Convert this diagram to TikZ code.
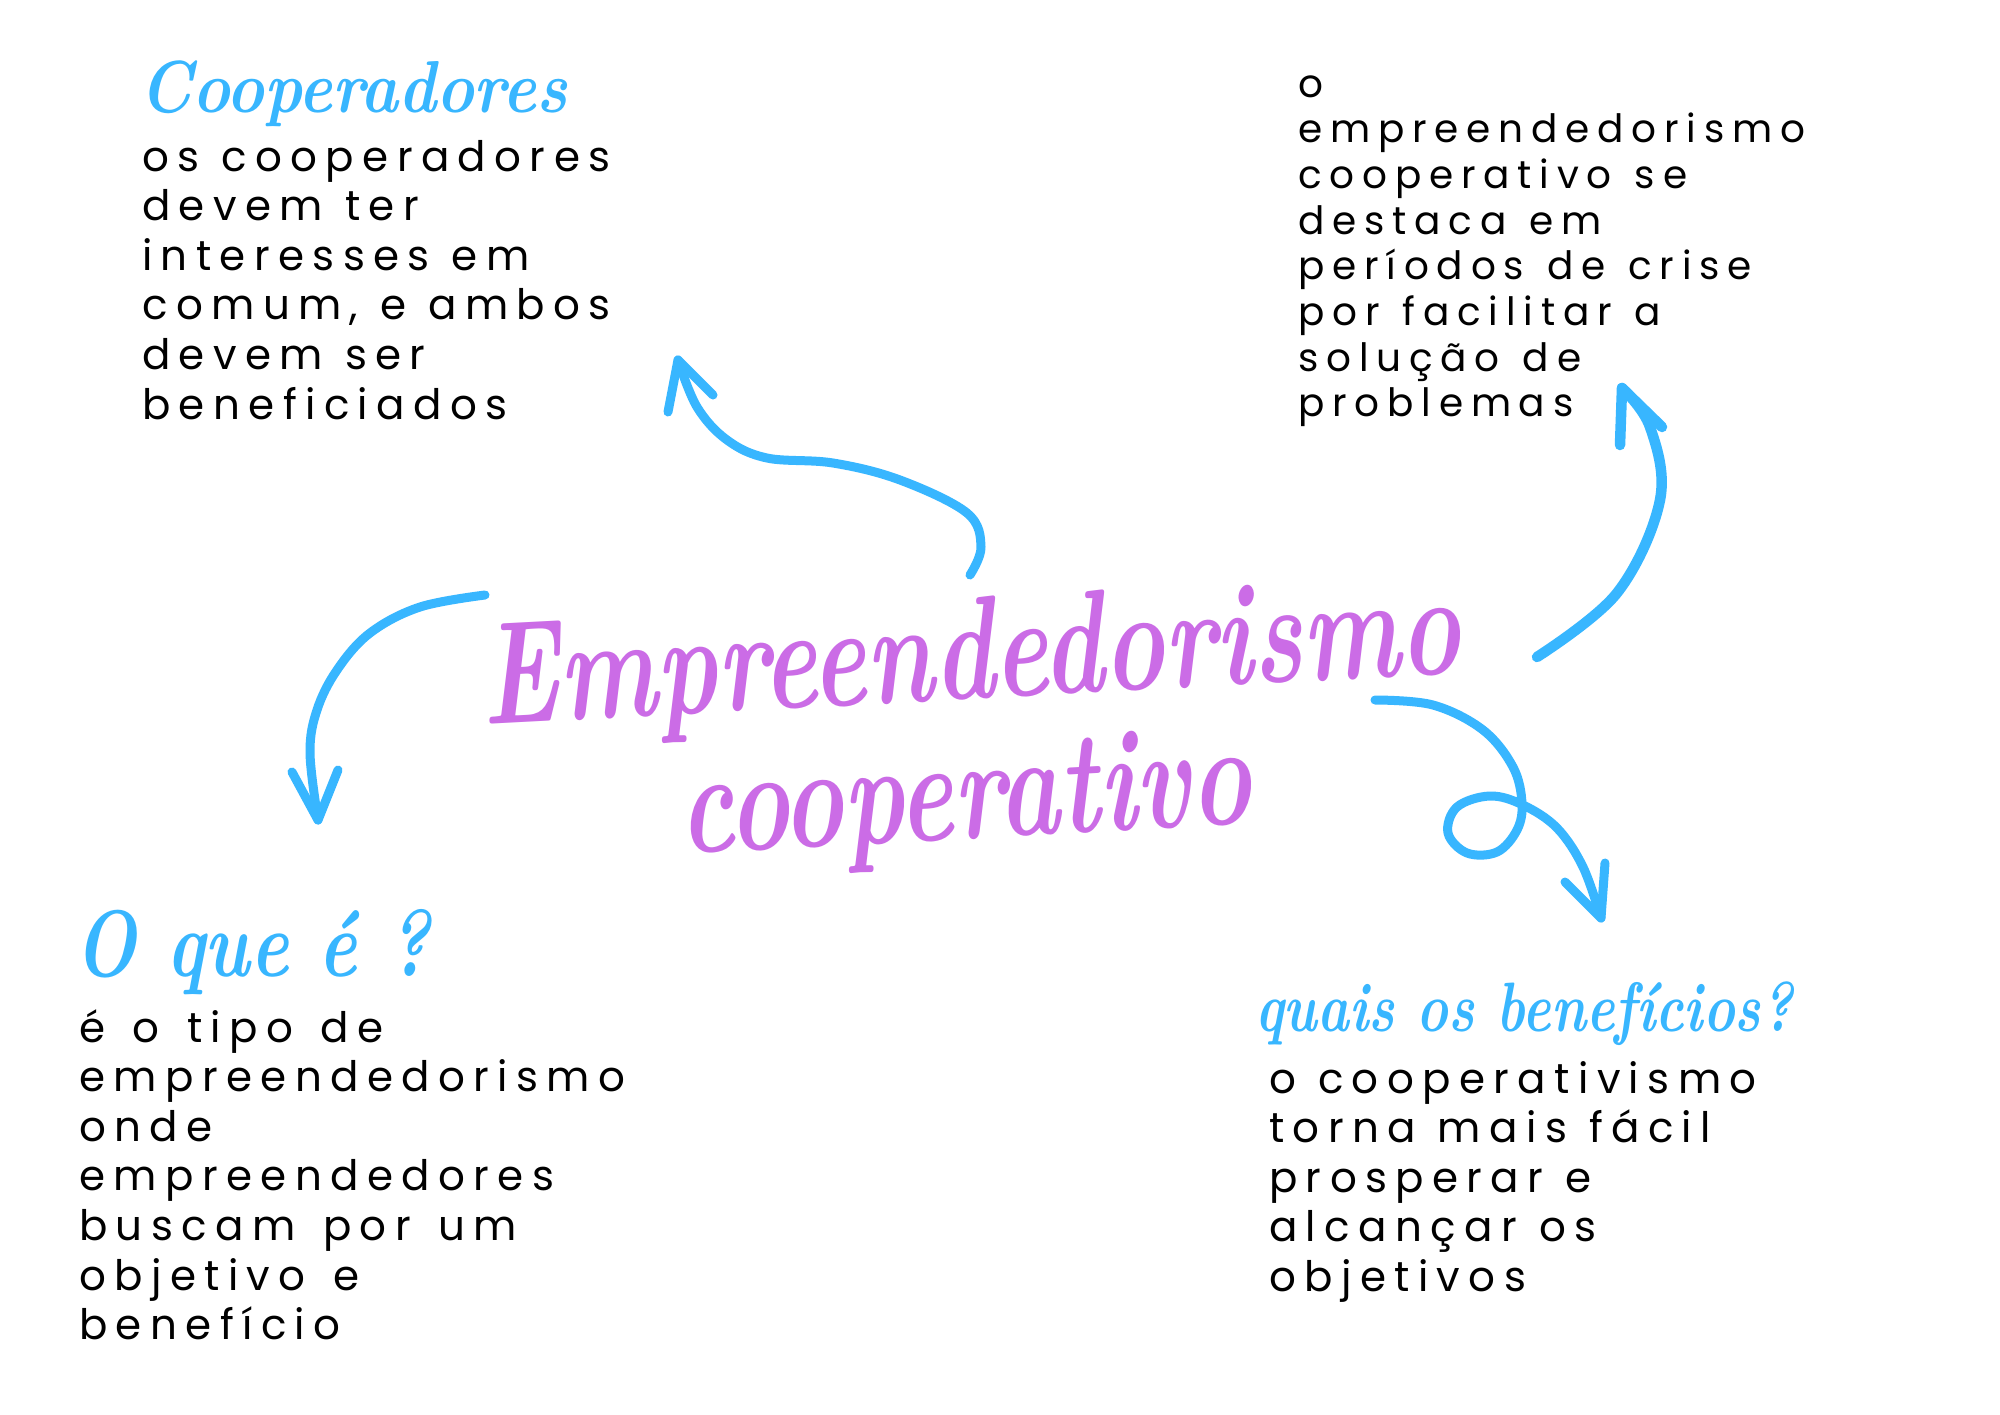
\documentclass[tikz,border=0pt]{standalone}
\usepackage{fontspec}
\usepackage{graphicx}
\newfontfamily\bodyfont{Poppins}[LetterSpace=20]
\definecolor{cblue}{HTML}{38B6FF}
\definecolor{cpurple}{HTML}{CB6CE6}
\tikzset{
  bodytext/.style={font=\bodyfont\fontsize{42}{49.6}\selectfont, execute at begin node={\spaceskip=22pt\relax}, align=left, text width=760pt, inner sep=0pt, anchor=base west, text=black},
  widebody/.style={font=\bodyfont\fontsize{42}{49.6}\selectfont, execute at begin node={\spaceskip=27.5pt\relax}, align=left, text width=760pt, inner sep=0pt, anchor=base west, text=black},
  smallbody/.style={font=\bodyfont\fontsize{39}{45.7}\selectfont, execute at begin node={\spaceskip=23pt\relax}, align=left, text width=760pt, inner sep=0pt, anchor=base west, text=black},
  titletext/.style={font=\bfseries\itshape, text=cblue, inner sep=0pt, anchor=base west},
  maintext/.style={font=\bfseries\itshape\fontsize{103}{96}\selectfont, text=cpurple, inner sep=0pt},
  arrowline/.style={draw=cblue, line width=9pt, line cap=round, line join=round}
}
\begin{document}
\begin{tikzpicture}[x=1pt,y=-1pt]
\useasboundingbox (0,0) rectangle (2000,1414);
\fill[white] (0,0) rectangle (2000,1414);

% titles
\node[titletext] (cooptitle) at (139,112) {\scalebox{1}[1.15]{\fontsize{64}{72}\selectfont Cooperadores}};
\node[titletext] (quetitle) at (74,976) {\scalebox{1}[1.3]{\fontsize{72.6}{80}\selectfont O que é ?}};
\node[titletext] (benftitle) at (1255,1031) {\scalebox{1}[1.3]{\fontsize{53.8}{60}\selectfont quais os benefícios?}};

% body texts
\node[bodytext] (coopbody) at (142,171) {os cooperadores\\devem ter\\interesses em\\comum, e ambos\\devem ser\\beneficiados};
\node[smallbody] (crisebody) at (1298,97) {o\\empreendedorismo\\cooperativo se\\destaca em\\períodos de crise\\por facilitar a\\solução de\\problemas};
\node[widebody] (quebody) at (79,1042) {é o tipo de\\empreendedorismo\\onde\\empreendedores\\buscam por um\\objetivo e\\benefício};
\node[bodytext] (benfbody) at (1269,1093) {o cooperativismo\\torna mais fácil\\prosperar e\\alcançar os\\objetivos};

% central title
\node[maintext, rotate=3] (main) at (975,738) {\scalebox{1}[1.42]{\begin{tabular}{@{}c@{}}Empreendedorismo\\cooperativo\hspace*{26pt}\end{tabular}}};

% arrow 1 (to Cooperadores)
\coordinate (a1s) at (970,575);
\coordinate (a1e) at (678,360);
\draw[arrowline] plot[smooth, tension=0.6] coordinates {(a1s) (981,547) (967,513) (900,480) (833,463) (767,458) (727,440) (697,407) (a1e)};
\draw[arrowline] (668,412) -- (a1e) -- (713,395);

% arrow 2 (to top-right block)
\coordinate (a2s) at (1537,657);
\coordinate (a2e) at (1622,388);
\draw[arrowline, line width=10.5pt] plot[smooth, tension=0.6] coordinates {(a2s) (1617,593) (1660,500) (1650,427) (a2e)};
\draw[arrowline, line width=10.5pt] (1620,445) -- (a2e) -- (1662,427);

% arrow 3 (loop, to benefits)
\coordinate (a3s) at (1375,700);
\coordinate (a3e) at (1601,918);
\draw[arrowline] plot[smooth, tension=0.6] coordinates {(a3s) (1433,705) (1483,730) (1513,767) (1522,803) (1517,830) (1497,852) (1467,853) (1448,833) (1457,807) (1490,796) (1523,805) (1557,828) (1583,867) (a3e)};
\draw[arrowline] (1565,882) -- (a3e) -- (1605,863);

% arrow 4 (to O que e)
\coordinate (a4s) at (485,595);
\coordinate (a4e) at (318,820);
\draw[arrowline] plot[smooth, tension=0.6] coordinates {(a4s) (420,607) (370,633) (337,670) (317,710) (310,753) (a4e)};
\draw[arrowline] (292,772) -- (a4e) -- (338,770);
\end{tikzpicture}
\end{document}
